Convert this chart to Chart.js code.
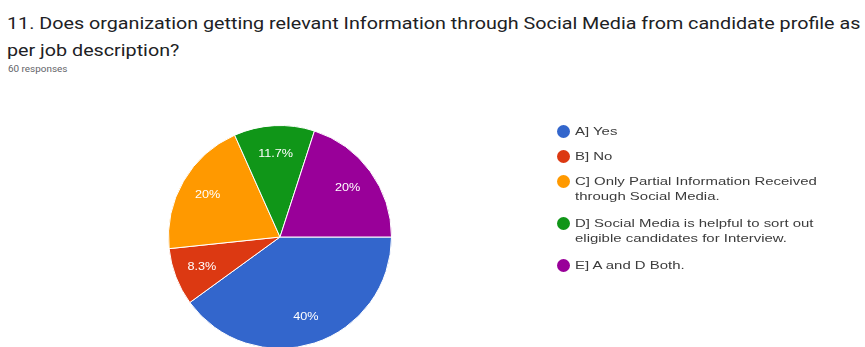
<!DOCTYPE html>
<html><head><meta charset="utf-8">
<script src="https://cdn.jsdelivr.net/npm/chart.js@4/dist/chart.umd.min.js"></script>
<style>
html,body{margin:0;padding:0;width:865px;height:347px;overflow:hidden;background:#fff;font-family:Roboto,Arial,sans-serif;}
#wrap{position:relative;width:865px;height:347px;}
#c{position:absolute;left:0;top:0;}
#title{position:absolute;left:7px;top:10px;font-size:17px;line-height:27px;color:#202124;white-space:nowrap;transform:scaleX(1.16);transform-origin:0 0;}
#sub{position:absolute;left:8px;top:64px;font-size:9px;color:#5f6368;transform:scaleX(1.1);transform-origin:0 0;}
#legend{position:absolute;left:557px;top:0;font-family:Arial,"Liberation Sans",sans-serif;font-size:11.5px;color:#3c3c3c;}
.li{position:absolute;left:0;white-space:nowrap;line-height:15px;}
.dot{position:absolute;left:0;top:1px;width:13px;height:13px;border-radius:50%;}
.tx{position:absolute;left:18px;top:0;transform:scaleX(1.3);transform-origin:0 0;}
</style></head>
<body><div id="wrap">
<div id="title">11. Does organization getting relevant Information through Social Media from candidate profile as<br>per job description?</div>
<div id="sub">60 responses</div>
<canvas id="c" width="865" height="380" style="width:865px;height:380px"></canvas>
<div id="legend"></div>
</div>
<script>
const categories = [
  ["A] Yes"],
  ["B] No"],
  ["C] Only Partial Information Received", "through Social Media."],
  ["D] Social Media is helpful to sort out", "eligible candidates for Interview."],
  ["E] A and D Both."]
];
const counts = [24, 5, 12, 7, 12];
const percentLabels = ["40%", "8.3%", "20%", "11.7%", "20%"];
const colors = ["#3366cc", "#dc3912", "#ff9900", "#109618", "#990099"];

// HTML legend
const lg = document.getElementById('legend');
let y = 124;
categories.forEach((lines, i) => {
  const d = document.createElement('div');
  d.className = 'li';
  d.style.top = y + 'px';
  d.innerHTML = '<span class="dot" style="background:' + colors[i] + '"></span><span class="tx">' + lines.join('<br>') + '</span>';
  lg.appendChild(d);
  y += 25 + 17 * (lines.length - 1);
});

const sliceLabels = {
  id: 'sliceLabels',
  afterDatasetsDraw(chart) {
    const ctx = chart.ctx;
    const meta = chart.getDatasetMeta(0);
    ctx.save();
    ctx.fillStyle = '#fff';
    ctx.font = '11px Arial, "Liberation Sans", sans-serif';
    ctx.textAlign = 'center';
    ctx.textBaseline = 'middle';
    meta.data.forEach((arc, i) => {
      const mid = (arc.startAngle + arc.endAngle) / 2;
      const r = arc.outerRadius * 0.75;
      const x = arc.x + Math.cos(mid) * r, yy = arc.y + Math.sin(mid) * r;
      ctx.save();
      ctx.translate(x, yy);
      ctx.scale(1.15, 1);
      ctx.fillText(percentLabels[i], 0, 0);
      ctx.restore();
    });
    ctx.restore();
  }
};

new Chart(document.getElementById('c'), {
  type: 'pie',
  data: {
    labels: categories.map(l => l.join(' ')),
    datasets: [{ data: counts, backgroundColor: colors, borderColor: '#fff', borderWidth: 1 }]
  },
  options: {
    responsive: false,
    animation: false,
    rotation: 90,
    layout: { padding: { left: 168, right: 473, top: 125, bottom: 31 } },
    plugins: { legend: { display: false }, tooltip: { enabled: false } }
  },
  plugins: [sliceLabels]
});
</script>
</body></html>
